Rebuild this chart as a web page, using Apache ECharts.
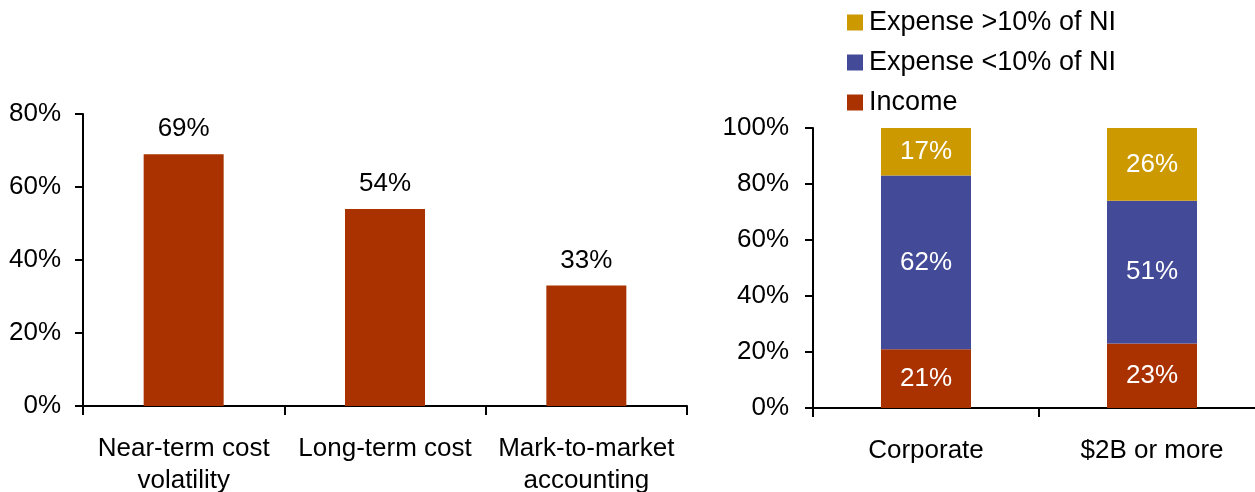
<!DOCTYPE html>
<html>
<head>
<meta charset="utf-8">
<style>
  html, body { margin: 0; padding: 0; background: #ffffff; }
  #chart { width: 1255px; height: 492px; }
</style>
<script src="https://cdn.jsdelivr.net/npm/echarts@6/dist/echarts.min.js"></script>
</head>
<body>
<div id="chart"></div>
<script>
// Left panel: share citing each concern
const concernCategories = ['Near-term cost\nvolatility', 'Long-term cost', 'Mark-to-market\naccounting'];
const concernValues = [69, 54, 33];
const concernTicks = [0, 20, 40, 60, 80];

// Right panel: income / expense split by group
const groupCategories = ['Corporate', '$2B or more'];
const incomeValues = [21, 23];
const expenseLowValues = [62, 51];
const expenseHighValues = [17, 26];
const groupTicks = [0, 20, 40, 60, 80, 100];

const RED = '#A93200';
const BLUE = '#434A98';
const GOLD = '#CC9900';
const FONT = '"Liberation Sans", Arial, Helvetica, sans-serif';
const FS = 26;

const chart = echarts.init(document.getElementById('chart'), null, { renderer: 'canvas' });

const axisLine = { show: true, lineStyle: { color: '#000', width: 2 } };
const axisTick = { show: true, length: 9, lineStyle: { color: '#000', width: 2 } };

function pctLabel(v) { return v + '%'; }

chart.setOption({
  animation: false,
  backgroundColor: '#ffffff',
  textStyle: { fontFamily: FONT },
  legend: {
    orient: 'vertical',
    left: 847,
    top: 9,
    padding: 0,
    icon: 'rect',
    itemWidth: 16,
    itemHeight: 16,
    itemGap: 13,
    data: ['Expense >10% of NI', 'Expense <10% of NI', 'Income'],
    textStyle: { fontFamily: FONT, fontSize: 27, color: '#000', lineHeight: 26, padding: [0, 0, 0, 1] }
  },
  grid: [
    { left: 83, top: 114, width: 604, height: 292, containLabel: false, outerBoundsMode: 'none' },
    { left: 813, top: 128, width: 452, height: 280, containLabel: false, outerBoundsMode: 'none' }
  ],
  xAxis: [
    {
      type: 'category', gridIndex: 0, data: concernCategories,
      axisLine, axisTick: Object.assign({ alignWithLabel: false }, axisTick),
      axisLabel: { color: '#000', fontFamily: FONT, fontSize: FS, lineHeight: 32, margin: 27, interval: 0 }
    },
    {
      type: 'category', gridIndex: 1, data: groupCategories,
      axisLine, axisTick: Object.assign({ alignWithLabel: false }, axisTick),
      axisLabel: { color: '#000', fontFamily: FONT, fontSize: FS, lineHeight: 32, margin: 27, interval: 0 }
    }
  ],
  yAxis: [
    {
      type: 'value', gridIndex: 0, min: concernTicks[0], max: concernTicks[concernTicks.length - 1], interval: 20,
      axisLine, axisTick: Object.assign({}, axisTick, { length: 8 }), splitLine: { show: false },
      axisLabel: { color: '#000', fontFamily: FONT, fontSize: FS, margin: 22, padding: [6, 0, 0, 0], formatter: pctLabel }
    },
    {
      type: 'value', gridIndex: 1, min: groupTicks[0], max: groupTicks[groupTicks.length - 1], interval: 20,
      axisLine, axisTick: Object.assign({}, axisTick, { length: 8 }), splitLine: { show: false },
      axisLabel: { color: '#000', fontFamily: FONT, fontSize: FS, margin: 24, padding: [4, 0, 0, 0], formatter: pctLabel }
    }
  ],
  series: [
    {
      name: 'Concern', type: 'bar', xAxisIndex: 0, yAxisIndex: 0,
      data: concernValues, barWidth: 80,
      itemStyle: { color: RED },
      label: {
        show: true, position: 'top', distance: 12, color: '#000',
        fontFamily: FONT, fontSize: FS, formatter: p => p.value + '%'
      }
    },
    {
      name: 'Income', type: 'bar', stack: 'group', xAxisIndex: 1, yAxisIndex: 1,
      data: incomeValues, barWidth: 90,
      itemStyle: { color: RED },
      label: { show: true, position: 'inside', color: '#fff', fontFamily: FONT, fontSize: FS, formatter: p => p.value + '%' }
    },
    {
      name: 'Expense <10% of NI', type: 'bar', stack: 'group', xAxisIndex: 1, yAxisIndex: 1,
      data: expenseLowValues, barWidth: 90,
      itemStyle: { color: BLUE },
      label: { show: true, position: 'inside', color: '#fff', fontFamily: FONT, fontSize: FS, formatter: p => p.value + '%' }
    },
    {
      name: 'Expense >10% of NI', type: 'bar', stack: 'group', xAxisIndex: 1, yAxisIndex: 1,
      data: expenseHighValues, barWidth: 90,
      itemStyle: { color: GOLD },
      label: { show: true, position: 'inside', color: '#fff', fontFamily: FONT, fontSize: FS, formatter: p => p.value + '%' }
    }
  ]
});
</script>
</body>
</html>
